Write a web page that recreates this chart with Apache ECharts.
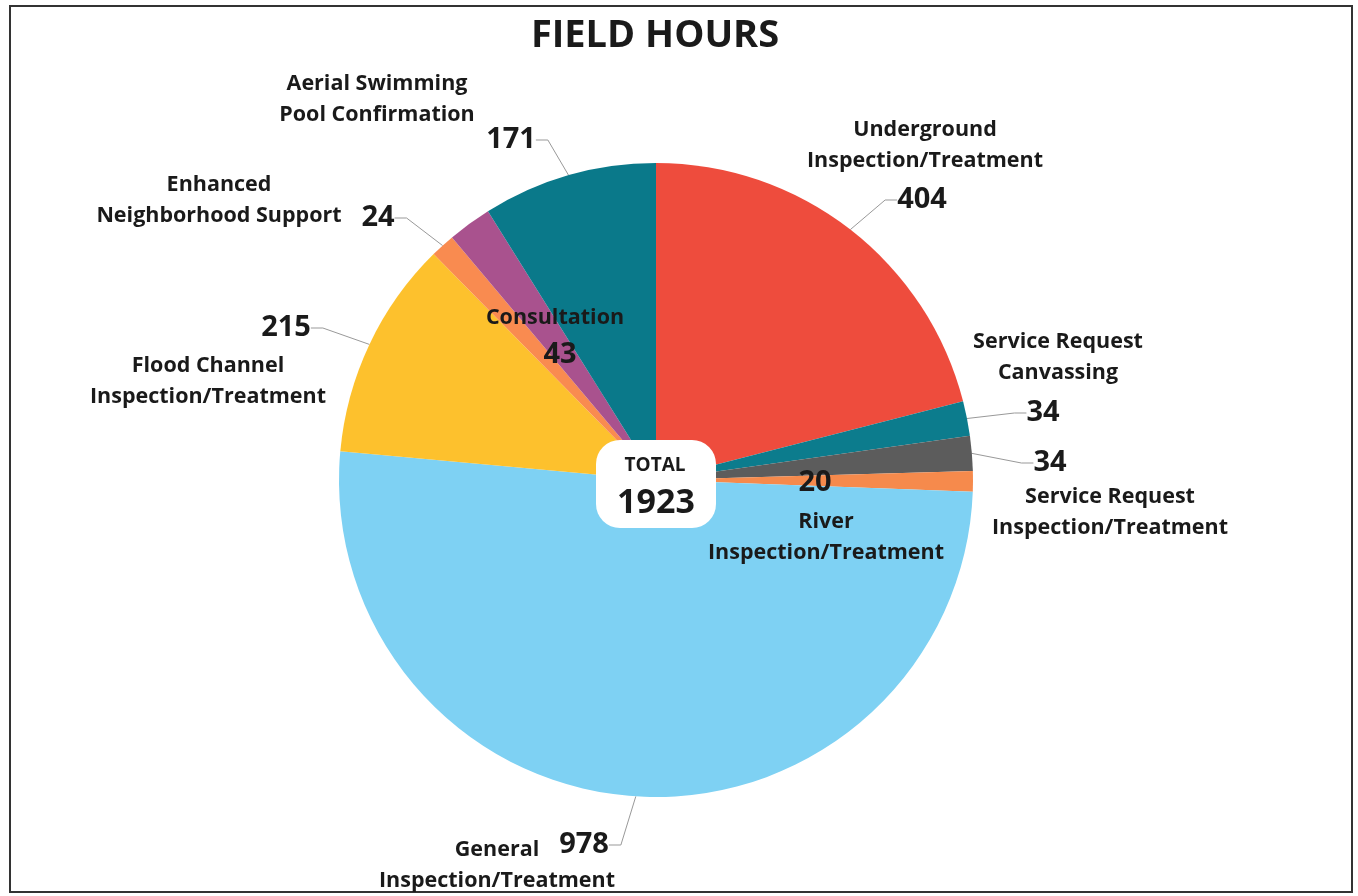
<!DOCTYPE html>
<html><head><meta charset="utf-8">
<script src="https://cdn.jsdelivr.net/npm/echarts@6/dist/echarts.min.js"></script>
<style>html,body{margin:0;padding:0;background:#fff}#c{width:1358px;height:896px}</style>
</head><body><div id="c"></div>
<script>
// ---- data ----
const categories = [
  'Underground\nInspection/Treatment',
  'Service Request\nCanvassing',
  'Service Request\nInspection/Treatment',
  'River\nInspection/Treatment',
  'General\nInspection/Treatment',
  'Flood Channel\nInspection/Treatment',
  'Enhanced\nNeighborhood Support',
  'Consultation',
  'Aerial Swimming\nPool Confirmation'
];
const values = [404, 34, 34, 20, 978, 215, 24, 43, 171];
const titleText = 'FIELD HOURS';
const totalLabel = 'TOTAL';

// ---- styling / layout ----
const colors = ['#EE4C3D', '#0C7C8D', '#5C5C5C', '#F68A4C', '#7ED1F3', '#FDC12D', '#F98B50', '#A9528E', '#0A798A'];
const valuePos = [[922,200],[1043,413],[1050,463],[815,483],[584,845],[286,328],[378,218],[560,355],[511,140]];
const namePos  = [[925,145],[1058,357],[1110,512],[826,537],[497,865],[208,381],[219,200],[555,318],[377,99]];
const noLine = [3, 7];
const FONT = '"Open Sans", "Noto Sans", sans-serif';
const TXT = '#1a1a1a';
const CX = 656, CY = 480, R = 317;

const total = values.reduce((a, b) => a + b, 0);

const valueData = values.map((v, i) => ({
  value: v, name: categories[i],
  itemStyle: { color: colors[i] },
  labelLine: { show: noLine.indexOf(i) < 0 }
}));
const nameData = values.map((v, i) => ({ value: v, name: categories[i] }));

const chart = echarts.init(document.getElementById('c'), null, { renderer: 'canvas' });
chart.setOption({
  animation: false,
  backgroundColor: '#fff',
  graphic: [
    { type: 'rect', shape: { x: 10, y: 6, width: 1342, height: 886 },
      style: { fill: 'none', stroke: '#333', lineWidth: 2 }, z: 0 },
    { type: 'text', x: 655, y: 36,
      style: { text: titleText, font: 'bold 38px ' + FONT, fill: TXT, align: 'center', verticalAlign: 'middle' }, z: 10 },
    { type: 'rect', shape: { x: CX - 60, y: 440, width: 120, height: 88, r: 24 },
      style: { fill: '#fff' }, z: 100 },
    { type: 'text', x: CX - 1, y: 466,
      style: { text: totalLabel, font: 'bold 19px ' + FONT, fill: TXT, align: 'center', verticalAlign: 'middle' }, z: 101 },
    { type: 'text', x: CX, y: 503,
      style: { text: String(total), font: 'bold 34px ' + FONT, fill: TXT, align: 'center', verticalAlign: 'middle' }, z: 101 }
  ],
  series: [
    {
      type: 'pie', center: [CX, CY], radius: R, startAngle: 90, clockwise: true,
      data: valueData,
      itemStyle: { borderWidth: 0 },
      label: { show: true, position: 'outside', formatter: '{c}',
        fontFamily: FONT, fontWeight: 'bold', fontSize: 29, color: TXT },
      labelLine: { show: true, length: 12, length2: 12, smooth: false,
        lineStyle: { color: '#999', width: 1 } },
      labelLayout: function (p) {
        const q = valuePos[p.dataIndex];
        return { x: q[0], y: q[1], align: 'center', verticalAlign: 'middle' };
      },
      emphasis: { disabled: true }
    },
    {
      type: 'pie', center: [CX, CY], radius: R, startAngle: 90, clockwise: true,
      data: nameData, silent: true,
      itemStyle: { color: 'rgba(0,0,0,0)' },
      label: { show: true, position: 'outside', formatter: '{b}',
        fontFamily: FONT, fontWeight: 'bold', fontSize: 21.5, lineHeight: 31, color: TXT, align: 'center' },
      labelLine: { show: false },
      labelLayout: function (p) {
        const q = namePos[p.dataIndex];
        return { x: q[0], y: q[1], align: 'center', verticalAlign: 'middle' };
      },
      emphasis: { disabled: true }
    }
  ]
});
</script>
</body></html>
